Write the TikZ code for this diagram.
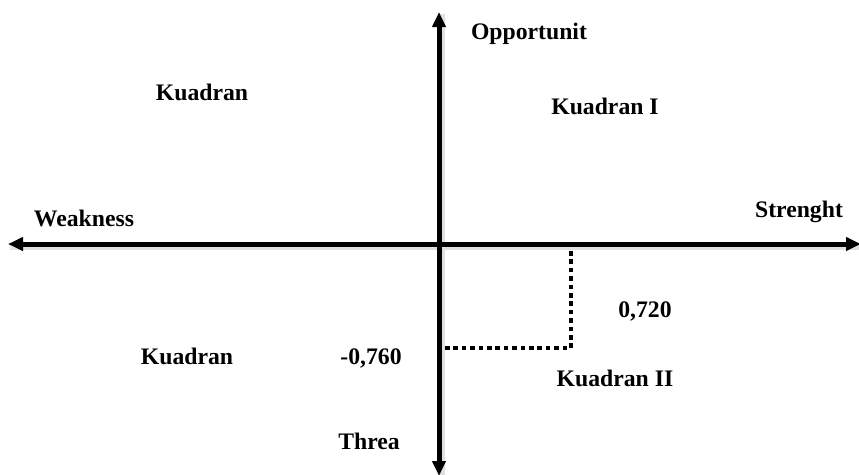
\documentclass[tikz,border=0pt]{standalone}
\usepackage{fontspec}
\setmainfont{Liberation Serif}
\usetikzlibrary{arrows.meta}
\tikzset{
  axisline/.style={line width=5pt, -{Triangle[length=15pt,width=13pt]}},
  axisshadow/.style={line width=5pt, draw=black!12},
  dotline/.style={line width=4.6pt, dash pattern=on 4.6pt off 3.8pt},
  lbl/.style={font=\fontsize{23.7pt}{26pt}\selectfont\bfseries, anchor=base, inner sep=0pt}
}
\begin{document}
\begin{tikzpicture}[x=1pt,y=-1pt]
\useasboundingbox[fill=white] (0,0) rectangle (859,474);
% axis end points
\coordinate (O) at (439,244);
\coordinate (L) at (8,244);
\coordinate (R) at (861,244);
\coordinate (T) at (439,12);
\coordinate (B) at (439,476);
\coordinate (P) at (571,348);
\coordinate (Px) at (571,251);
\coordinate (Py) at (441,348);
% faint shadows
\draw[axisshadow] ([shift={(2,3)}]L) -- ([shift={(2,3)}]R);
\draw[axisshadow] ([shift={(3,2)}]T) -- ([shift={(3,2)}]B);
% axes
\draw[axisline] (O) -- (L);
\draw[axisline] (O) -- (R);
\draw[axisline] (O) -- (T);
\draw[axisline] (O) -- (B);
% dotted guide
\draw[dotline] (Px) -- (P) -- (Py);
% labels
\node[lbl] (opp) at (529,39) {Opportunit};
\node[lbl] (k4) at (202,100) {Kuadran};
\node[lbl] (k1) at (605,114) {Kuadran I};
\node[lbl] (weak) at (84,226) {Weakness};
\node[lbl] (str) at (799,217) {Strenght};
\node[lbl] (v1) at (645,317) {0,720};
\node[lbl] (k3) at (187,364) {Kuadran};
\node[lbl] (v2) at (371,364) {-0,760};
\node[lbl] (k2) at (615,386) {Kuadran II};
\node[lbl] (thr) at (369,449) {Threa};
\end{tikzpicture}
\end{document}
